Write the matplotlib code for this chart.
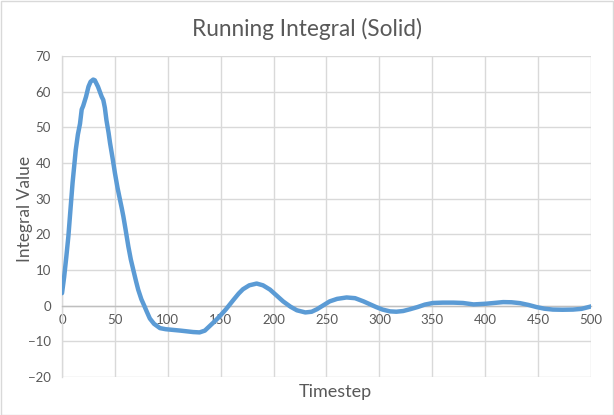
import matplotlib
matplotlib.use("Agg")
from matplotlib import pyplot as plt
from matplotlib.patches import Rectangle

# ------------------------------------------------------------- #
# Data
# ------------------------------------------------------------- #

timestep = [0, 2, 4, 6, 8, 10, 13, 15, 17, 18.6, 20, 22.7, 25, 27, 29.5, 31,
            34, 36, 37.5, 39, 40.5, 42, 44, 45.4, 48, 50, 52.5, 54.8, 56.5,
            58, 60, 62.7, 65, 67.4, 70, 72, 75, 78, 80, 83, 87, 92.6, 98, 105,
            112, 118, 124, 130, 135, 140, 145, 149, 155, 162, 167, 171, 177,
            184, 190, 196.6, 203, 209, 216, 222, 230, 236, 241, 247, 253, 260,
            269, 277, 285, 291, 297, 303, 310, 316, 322.5, 329, 336, 343,
            350.6, 360, 370, 379, 389, 401, 410, 417, 425, 433, 441, 448.6,
            456, 464, 473, 483, 491, 499, 500]
integral = [3.5, 8.0, 13.5, 19.4, 27.0, 34.5, 43.7, 48.0, 51.0, 55.0, 56.0,
            58.6, 61.4, 62.8, 63.4, 63.2, 61.4, 59.8, 58.6, 57.7, 55.5, 52.0,
            48.5, 45.6, 41.0, 37.2, 33.0, 29.7, 27.3, 25.0, 21.5, 16.6, 13.0,
            10.0, 6.8, 4.5, 1.8, -0.2, -1.6, -3.6, -5.1, -6.3, -6.6, -6.8,
            -7.0, -7.2, -7.4, -7.5, -7.0, -5.6, -4.2, -3.0, -1.0, 1.6, 3.4,
            4.6, 5.7, 6.2, 5.7, 4.5, 2.8, 1.2, -0.3, -1.3, -1.9, -1.7, -1.0,
            0.1, 1.2, 1.9, 2.3, 2.1, 1.2, 0.4, -0.4, -1.1, -1.6, -1.7, -1.5,
            -1.0, -0.4, 0.3, 0.75, 0.85, 0.85, 0.75, 0.35, 0.55, 0.8, 1.0,
            0.95, 0.7, 0.2, -0.4, -0.85, -1.1, -1.15, -1.1, -0.9, -0.3, -0.2]

x_ticks = list(range(0, 501, 50))
y_ticks = list(range(-20, 71, 10))

title = "Running Integral (Solid)"
x_label = "Timestep"
y_label = "Integral Value"

# ------------------------------------------------------------- #
# Style
# ------------------------------------------------------------- #

plt.rcParams["font.family"] = ["Lato", "DejaVu Sans"]
text_color = "#595959"
grid_color = "#d9d9d9"
line_color = "#5b9bd5"

fig = plt.figure(figsize=(6.14, 4.15), dpi=100)
fig.patch.set_facecolor("white")
fig.patches.append(Rectangle((0.001, 0.001), 0.997, 0.997, transform=fig.transFigure,
                             fill=False, edgecolor="#d9d9d9", linewidth=1))

ax = fig.add_axes([0.101, 0.0916, 0.8615, 0.7734])

ax.plot(timestep, integral, color=line_color, linewidth=3.2,
        solid_capstyle="round", solid_joinstyle="round", zorder=3)

ax.set_xlim(0, 500)
ax.set_ylim(-20, 70)
ax.set_xticks(x_ticks)
ax.set_yticks(y_ticks)
ax.grid(True, color=grid_color, linewidth=1)
ax.set_axisbelow(True)

for side in ["top", "right"]:
    ax.spines[side].set_visible(False)
ax.spines["left"].set_color(grid_color)
ax.spines["left"].set_linewidth(1)
ax.spines["bottom"].set_position(("data", 0))
ax.spines["bottom"].set_color("#bfbfbf")
ax.spines["bottom"].set_linewidth(1)

ax.tick_params(axis="both", length=0, labelsize=9.5, labelcolor=text_color)
ax.tick_params(axis="x", pad=6)
ax.tick_params(axis="y", pad=8)

fig.text(0.5, 0.93, title, ha="center", va="center", fontsize=16.3, color=text_color)
fig.text(0.546, 0.055, x_label, ha="center", va="center", fontsize=13, color=text_color)
fig.text(0.041, 0.496, y_label, ha="center", va="center", fontsize=12.5,
         color=text_color, rotation=90)

plt.savefig("out.png", dpi=100, facecolor="white")
